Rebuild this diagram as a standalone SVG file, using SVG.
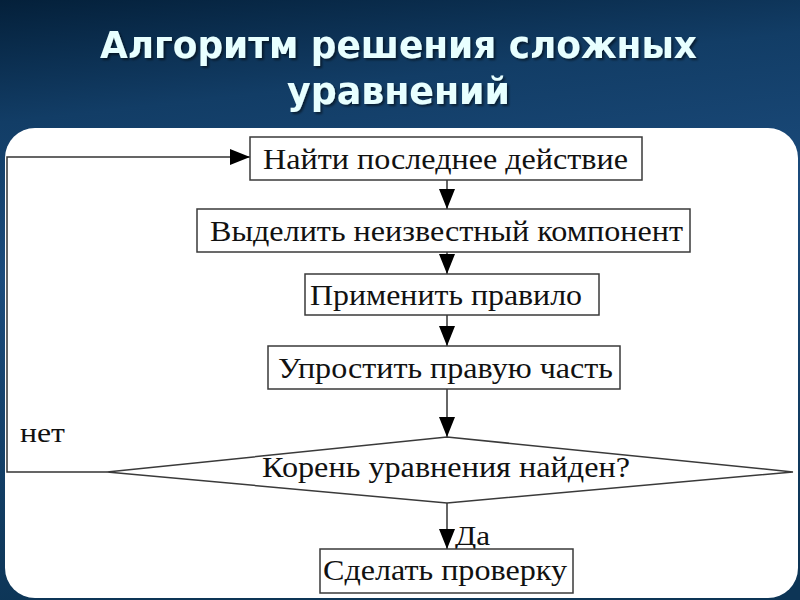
<svg xmlns="http://www.w3.org/2000/svg" width="800" height="600" viewBox="0 0 800 600">
<defs>
<linearGradient id="bg" x1="0" y1="0" x2="0.15" y2="1">
<stop offset="0" stop-color="#04203a"/>
<stop offset="0.2" stop-color="#123d66"/>
<stop offset="0.45" stop-color="#1b4b7c"/>
<stop offset="1" stop-color="#0d3556"/>
</linearGradient>
<filter id="sh" x="-5%" y="-20%" width="110%" height="140%">
<feDropShadow dx="2" dy="2" stdDeviation="1" flood-color="#000" flood-opacity="0.5"/>
</filter>
<marker id="ah" markerUnits="userSpaceOnUse" markerWidth="20" markerHeight="16" refX="20" refY="8" orient="auto">
<path d="M0,0 L20,8 L0,16 Z" fill="#000"/>
</marker>
<style>
.box{fill:#fff;stroke:#3a3a3a;stroke-width:1.5}
.t{font-family:"Liberation Serif","Times New Roman",serif;font-size:29px;fill:#111;text-anchor:middle}
.lbl{font-family:"Liberation Serif","Times New Roman",serif;font-size:27px;fill:#111}
.ln{fill:none;stroke:#333;stroke-width:1.5}
.title{font-family:"DejaVu Sans","Liberation Sans",sans-serif;font-weight:bold;font-size:37px;fill:#e8ffff;text-anchor:middle}
</style>
</defs>
<rect x="0" y="0" width="800" height="600" fill="url(#bg)"/>
<rect x="5" y="128" width="793" height="470" rx="30" ry="30" fill="#fff"/>
<g id="title" filter="url(#sh)">
<text class="title" x="398.5" y="58" textLength="597" lengthAdjust="spacingAndGlyphs">Алгоритм решения сложных</text>
<text class="title" x="398.5" y="104" textLength="223" lengthAdjust="spacingAndGlyphs">уравнений</text>
</g>
<g id="connectors">
<line class="ln" x1="447" y1="180" x2="447" y2="209" marker-end="url(#ah)"/>
<line class="ln" x1="447" y1="252" x2="447" y2="274" marker-end="url(#ah)"/>
<line class="ln" x1="447" y1="315" x2="447" y2="346" marker-end="url(#ah)"/>
<line class="ln" x1="447" y1="389" x2="447" y2="437" marker-end="url(#ah)"/>
<line class="ln" x1="447" y1="503" x2="447" y2="549" marker-end="url(#ah)"/>
<polyline class="ln" points="107,472 7,472 7,157 250,157" marker-end="url(#ah)"/>
<text class="lbl" x="20" y="442" textLength="45" lengthAdjust="spacingAndGlyphs">нет</text>
<text class="lbl" x="455" y="545" textLength="35" lengthAdjust="spacingAndGlyphs">Да</text>
</g>
<g id="n1">
<rect class="box" x="250" y="137" width="392" height="43"/>
<text class="t" x="445.5" y="169" textLength="365" lengthAdjust="spacingAndGlyphs">Найти последнее действие</text>
</g>
<g id="n2">
<rect class="box" x="197" y="209" width="493" height="43"/>
<text class="t" x="446.5" y="241" textLength="473" lengthAdjust="spacingAndGlyphs">Выделить неизвестный компонент</text>
</g>
<g id="n3">
<rect class="box" x="305" y="274" width="294" height="41"/>
<text class="t" x="446" y="305" textLength="272" lengthAdjust="spacingAndGlyphs">Применить правило</text>
</g>
<g id="n4">
<rect class="box" x="268" y="346" width="352" height="43"/>
<text class="t" x="445.5" y="378" textLength="335" lengthAdjust="spacingAndGlyphs">Упростить правую часть</text>
</g>
<g id="n5">
<polygon class="box" points="107,472 447,437 793,472 447,503"/>
<text class="t" x="446" y="477" textLength="368" lengthAdjust="spacingAndGlyphs">Корень уравнения найден?</text>
</g>
<g id="n6">
<rect class="box" x="320" y="549" width="253" height="44"/>
<text class="t" x="445" y="580" textLength="244" lengthAdjust="spacingAndGlyphs">Сделать проверку</text>
</g>
</svg>
